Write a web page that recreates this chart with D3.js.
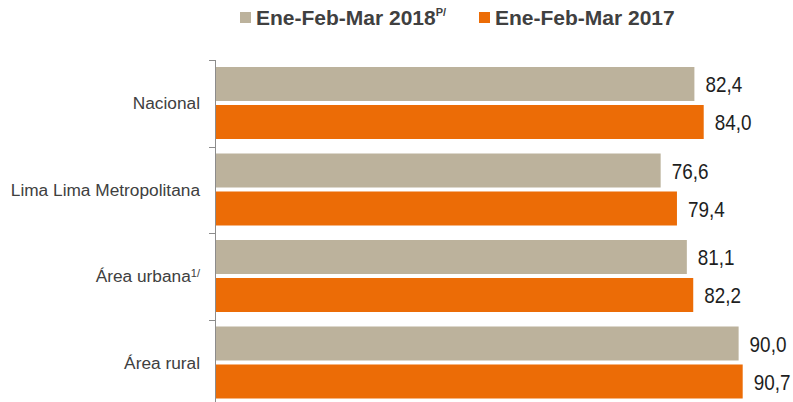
<!DOCTYPE html>
<meta charset="utf-8">
<script src="https://d3js.org/d3.v7.min.js"></script>
<style>
  body { margin: 0; background: #fff; }
</style>
<div id="my_dataviz"></div>
<script>

// data
var categories = ["Nacional", "Lima Lima Metropolitana", "Área urbana", "Área rural"];
var catSup = ["", "", "1/", ""];
var seriesNames = ["Ene-Feb-Mar 2018", "Ene-Feb-Mar 2017"];
var seriesSup = ["P/", ""];
var values2018 = [82.4, 76.6, 81.1, 90.0];
var values2017 = [84.0, 79.4, 82.2, 90.7];

var colors = ["#bcb29c", "#ec6c06"];
var width = 793, height = 402;

var svg = d3.select("#my_dataviz")
  .append("svg")
    .attr("width", width)
    .attr("height", height)
    .style("font-family", "Arial, 'Liberation Sans', sans-serif");

var rows = categories.map(function(c, i){
  return {cat: c, sup: catSup[i], vals: [values2018[i], values2017[i]]};
});

// scales
var x = d3.scaleLinear().domain([0, 100]).range([215, 796.8]);
var y0 = d3.scaleBand().domain(categories).range([60, 406]).paddingInner(0);
var y1 = d3.scaleBand().domain([0, 1]).range([7, 79]).paddingInner(0.105);

// axis line + ticks
svg.append("line")
  .attr("x1", 215.5).attr("x2", 215.5)
  .attr("y1", 60).attr("y2", height)
  .attr("stroke", "#8c8c8c").attr("stroke-width", 1);
svg.selectAll("tickmarks")
  .data(categories)
  .enter()
  .append("line")
    .attr("x1", 209).attr("x2", 215.5)
    .attr("y1", function(d){ return Math.round(y0(d)) + 0.5 })
    .attr("y2", function(d){ return Math.round(y0(d)) + 0.5 })
    .attr("stroke", "#8c8c8c");

// groups
var groups = svg.selectAll("groups")
  .data(rows)
  .enter()
  .append("g")
    .attr("transform", function(d){ return "translate(0," + y0(d.cat) + ")" });

groups.selectAll("rect")
  .data(function(d){ return d.vals.map(function(v, k){ return {k: k, v: v} }) })
  .enter()
  .append("rect")
    .attr("x", x(0) + 1)
    .attr("y", function(d){ return y1(d.k) })
    .attr("width", function(d){ return x(d.v) - x(0) - 1 })
    .attr("height", y1.bandwidth())
    .attr("fill", function(d){ return colors[d.k] });

// value labels (narrow look: squeezed horizontally)
groups.selectAll("vlabel")
  .data(function(d){ return d.vals.map(function(v, k){ return {k: k, v: v} }) })
  .enter()
  .append("text")
    .attr("transform", function(d){
      return "translate(" + (x(d.v) + 11) + "," + (y1(d.k) + y1.bandwidth() / 2) + ") scale(0.84,1)";
    })
    .attr("dy", "0.36em")
    .style("font-size", "22.5px")
    .attr("fill", "#1e1e1e")
    .text(function(d){ return d3.format(".1f")(d.v).replace(".", ",") });

// category labels
var clabels = groups.append("text")
    .attr("x", 200)
    .attr("y", y0.bandwidth() / 2)
    .attr("dy", "0.36em")
    .style("text-anchor", "end")
    .style("font-size", "17.3px")
    .attr("fill", "#404040");
clabels.append("tspan").text(function(d){ return d.cat });
clabels.append("tspan")
    .attr("dy", "-0.5em")
    .style("font-size", "11px")
    .text(function(d){ return d.sup });

// legend
var legendX = [240, 479];
var legend = svg.selectAll("legend")
  .data(seriesNames)
  .enter()
  .append("g")
    .attr("transform", function(d, i){ return "translate(" + legendX[i] + ",0)" });
legend.append("rect")
    .attr("x", 0).attr("y", 12)
    .attr("width", 11).attr("height", 11)
    .attr("fill", function(d, i){ return colors[i] });
var ltext = legend.append("text")
    .attr("x", 16)
    .attr("y", 25)
    .style("font-size", "21px")
    .style("font-weight", "bold")
    .attr("fill", "#404040");
ltext.append("tspan").text(function(d){ return d });
ltext.append("tspan")
    .attr("dy", "-9")
    .style("font-size", "11px")
    .text(function(d, i){ return seriesSup[i] });

</script>
